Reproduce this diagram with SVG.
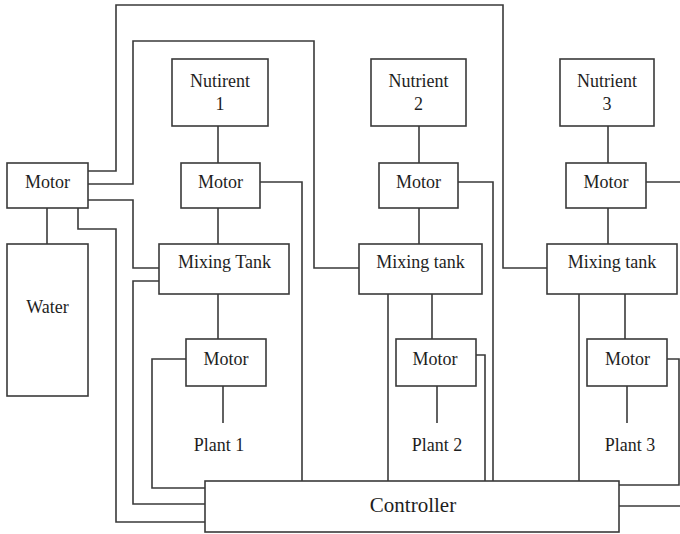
<svg xmlns="http://www.w3.org/2000/svg" width="680" height="534" viewBox="0 0 680 534">
  <style>
    .box { fill: #ffffff; stroke: #3a3a3a; stroke-width: 1.6; }
    .wire { fill: none; stroke: #3a3a3a; stroke-width: 1.6; }
    text { font-family: 'Liberation Serif', 'DejaVu Serif', serif; font-size: 18px; fill: #1e1e1e; text-anchor: middle; }
    .big { font-size: 21px; }
  </style>
  <rect width="680" height="534" fill="#ffffff"/>

  <!-- connectors -->
  <g id="connectors" class="wire">
    <path d="M47,208 V244"/>
    <path d="M88,171 H116 V5 H503 V268 H547"/>
    <path d="M88,184 H133 V41 H314 V268 H359"/>
    <path d="M88,200 H133 V268 H159"/>
    <path d="M78,208 V229 H116 V522 H205"/>
    <path d="M159,281 H133 V504 H205"/>
    <path d="M218,126 V163"/>
    <path d="M218,208 V244"/>
    <path d="M260,182 H302 V481"/>
    <path d="M218,294 V339"/>
    <path d="M223,386 V423"/>
    <path d="M186,359 H152 V488 H205"/>
    <path d="M419,126 V163"/>
    <path d="M419,208 V244"/>
    <path d="M458,182 H493 V481"/>
    <path d="M388,294 V481"/>
    <path d="M432,294 V339"/>
    <path d="M437,386 V423"/>
    <path d="M476,355 H485 V481"/>
    <path d="M608,126 V163"/>
    <path d="M608,208 V244"/>
    <path d="M646,182 H680"/>
    <path d="M579,294 V481"/>
    <path d="M625,294 V339"/>
    <path d="M627,386 V423"/>
    <path d="M667,359 H679 V485 H619"/>
    <path d="M619,506 H680"/>
  </g>

  <!-- water supply -->
  <g id="motor-water">
    <rect class="box" x="7" y="163" width="81" height="45"/>
    <text font-family="Liberation Serif, serif" x="47.5" y="188">Motor</text>
  </g>
  <g id="water">
    <rect class="box" x="7" y="244" width="81" height="152"/>
    <text font-family="Liberation Serif, serif" x="47.5" y="313">Water</text>
  </g>

  <!-- line 1 -->
  <g id="nutrient-1">
    <rect class="box" x="172" y="59" width="96" height="67"/>
    <text font-family="Liberation Serif, serif" x="220" y="87">Nutirent</text>
    <text font-family="Liberation Serif, serif" x="220" y="110">1</text>
  </g>
  <g id="motor-n1">
    <rect class="box" x="181" y="163" width="79" height="45"/>
    <text font-family="Liberation Serif, serif" x="220.5" y="188">Motor</text>
  </g>
  <g id="mixing-tank-1">
    <rect class="box" x="159" y="244" width="130" height="50"/>
    <text font-family="Liberation Serif, serif" x="224.5" y="268">Mixing Tank</text>
  </g>
  <g id="motor-p1">
    <rect class="box" x="186" y="339" width="80" height="47"/>
    <text font-family="Liberation Serif, serif" x="226" y="365">Motor</text>
  </g>
  <g id="plant-1">
    <text font-family="Liberation Serif, serif" x="219" y="451">Plant 1</text>
  </g>

  <!-- line 2 -->
  <g id="nutrient-2">
    <rect class="box" x="371" y="59" width="95" height="67"/>
    <text font-family="Liberation Serif, serif" x="418.5" y="87">Nutrient</text>
    <text font-family="Liberation Serif, serif" x="418.5" y="110">2</text>
  </g>
  <g id="motor-n2">
    <rect class="box" x="379" y="163" width="79" height="45"/>
    <text font-family="Liberation Serif, serif" x="418.5" y="188">Motor</text>
  </g>
  <g id="mixing-tank-2">
    <rect class="box" x="359" y="244" width="123" height="50"/>
    <text font-family="Liberation Serif, serif" x="420.5" y="268">Mixing tank</text>
  </g>
  <g id="motor-p2">
    <rect class="box" x="396" y="339" width="80" height="47"/>
    <text font-family="Liberation Serif, serif" x="435" y="365">Motor</text>
  </g>
  <g id="plant-2">
    <text font-family="Liberation Serif, serif" x="437" y="451">Plant 2</text>
  </g>

  <!-- line 3 -->
  <g id="nutrient-3">
    <rect class="box" x="560" y="59" width="94" height="67"/>
    <text font-family="Liberation Serif, serif" x="607" y="87">Nutrient</text>
    <text font-family="Liberation Serif, serif" x="607" y="110">3</text>
  </g>
  <g id="motor-n3">
    <rect class="box" x="566" y="163" width="80" height="45"/>
    <text font-family="Liberation Serif, serif" x="606" y="188">Motor</text>
  </g>
  <g id="mixing-tank-3">
    <rect class="box" x="547" y="244" width="130" height="50"/>
    <text font-family="Liberation Serif, serif" x="612" y="268">Mixing tank</text>
  </g>
  <g id="motor-p3">
    <rect class="box" x="587" y="339" width="80" height="47"/>
    <text font-family="Liberation Serif, serif" x="627.5" y="365">Motor</text>
  </g>
  <g id="plant-3">
    <text font-family="Liberation Serif, serif" x="630" y="451">Plant 3</text>
  </g>

  <!-- controller -->
  <g id="controller">
    <rect class="box" x="205" y="481" width="414" height="51"/>
    <text class="big" font-family="Liberation Serif, serif" x="413" y="512">Controller</text>
  </g>
</svg>
